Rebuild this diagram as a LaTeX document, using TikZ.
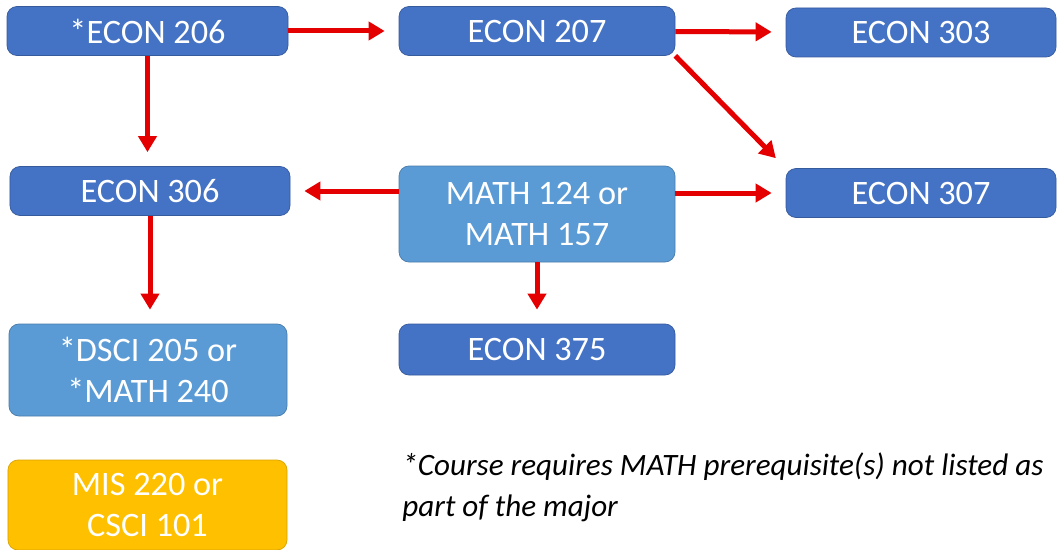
\documentclass[tikz,border=0pt]{standalone}
\usepackage{tikz}
\usepackage{xcolor}
\usepackage{fontspec}
\setmainfont{Carlito}
\usetikzlibrary{arrows.meta, positioning}
\definecolor{econblue}{RGB}{68, 114, 196}
\definecolor{mathblue}{RGB}{91, 155, 213}
\definecolor{misyellow}{RGB}{255, 192, 0}
\definecolor{prereqred}{RGB}{228, 0, 0}
\tikzstyle{coursenode} = [rectangle, rounded corners=0.2cm, minimum width=5.5cm, minimum height=0.98cm, text centered, draw=econblue!80!black, line width=0.4pt, fill=econblue, text=white, font=\fontsize{19.5}{23.5}\selectfont, align=center, inner sep=0pt]
\tikzstyle{mathnode} = [coursenode, draw=mathblue!80!black, fill=mathblue]
\tikzstyle{misnode} = [coursenode, draw=misyellow!85!black, fill=misyellow]
\tikzstyle{arrow} = [line width=0.1cm, prereqred, -{Triangle[length=0.32cm, width=0.36cm]}, shorten >=0.28cm]

\begin{document}
\begin{tikzpicture}
                \useasboundingbox (0,0) rectangle (21.16,-11);
                \node[coursenode, minimum width=5.62cm] (econ206) at (2.95,-0.62) {*ECON 206};
                \node[coursenode, minimum width=5.52cm] (econ207) at (10.74,-0.62) {ECON 207};
                \node[coursenode, minimum width=5.4cm] (econ303) at (18.42,-0.65) {ECON 303};
                \node[coursenode, minimum width=5.6cm] (econ306) at (3.0,-3.82) {ECON 306};
                \node[mathnode, minimum width=5.52cm, minimum height=1.92cm] (math) at (10.74,-4.28) {MATH 124 or\\MATH 157};
                \node[coursenode, minimum width=5.4cm] (econ307) at (18.42,-3.86) {ECON 307};
                \node[mathnode, minimum width=5.56cm, minimum height=1.84cm] (dsci) at (2.96,-7.40) {*DSCI 205 or\\*MATH 240};
                \node[coursenode, minimum width=5.52cm, minimum height=1.02cm] (econ375) at (10.74,-6.99) {ECON 375};
                \node[misnode, minimum width=5.58cm, minimum height=1.8cm] (mis) at (2.95,-10.10) {MIS 220 or\\CSCI 101};
                \node[anchor=north west, align=left, inner sep=0pt, font=\fontsize{17.7}{23.4}\selectfont\itshape] (note) at (8.04,-9.05) {*Course requires MATH prerequisite(s) not listed as\\part of the major};
                
                \draw[arrow] (econ206) -- (econ207);
                \draw[arrow] (econ207) -- (econ303);
                \draw[arrow] (econ207.south east) -- (econ307.north west);
                \draw[arrow] (econ206.south) -- (econ206.south |- econ306.north);
                \draw[arrow] (math.west |- econ306) -- (econ306);
                \draw[arrow] (math.east |- econ307) -- (econ307);
                \draw[arrow] (econ306.south) -- (econ306.south |- dsci.north);
                \draw[arrow] (math) -- (econ375);
            \end{tikzpicture}
\end{document}
